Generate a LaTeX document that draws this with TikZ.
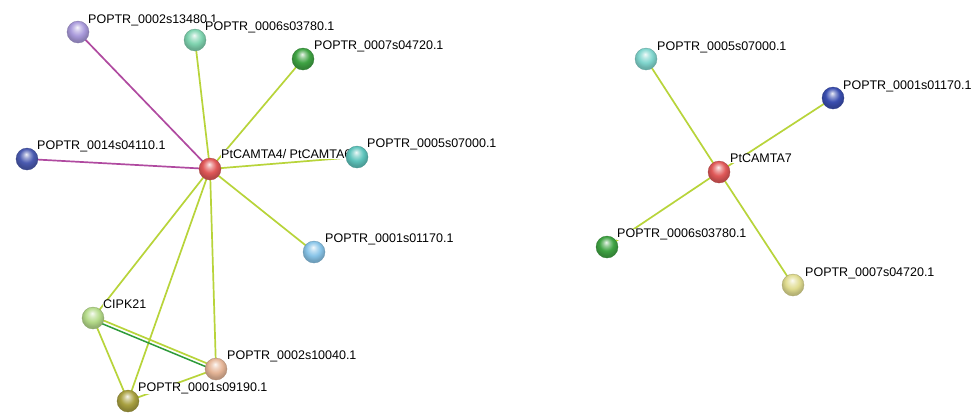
\documentclass[tikz,border=0pt]{standalone}
\usepackage{fontspec}
\setmainfont{Liberation Sans}
\pgfdeclarelayer{bg}
\pgfdeclarelayer{edges}
\pgfdeclarelayer{labels}
\pgfsetlayers{bg,edges,labels,main}
\definecolor{edgeYG}{HTML}{B8D43A}
\definecolor{edgeMag}{HTML}{B04AA0}
\definecolor{edgeGr}{HTML}{2E9B3A}
\definecolor{cRed}{HTML}{E05858}
\definecolor{cLav}{HTML}{A99ADB}
\definecolor{cMint}{HTML}{7FD4B0}
\definecolor{cGreen}{HTML}{3FA343}
\definecolor{cNavy}{HTML}{4A5AB0}
\definecolor{cTeal}{HTML}{5EC4BC}
\definecolor{cLBlue}{HTML}{88C4E8}
\definecolor{cLGreen}{HTML}{B5DB8A}
\definecolor{cPeach}{HTML}{E5B597}
\definecolor{cOlive}{HTML}{A8A040}
\definecolor{cLTeal}{HTML}{80D6CE}
\definecolor{cBlue}{HTML}{3A4EB0}
\definecolor{cYellow}{HTML}{E0DC90}
\makeatletter
\pgfdeclareradialshading[tikz@ball]{sphereshade}{\pgfqpoint{-2bp}{11bp}}{%
  color(0bp)=(tikz@ball!10!white); color(7bp)=(tikz@ball!55!white);
  color(16bp)=(tikz@ball); color(25bp)=(tikz@ball!82!black);
  color(50bp)=(tikz@ball!70!black)}
\tikzset{sph/.code={\colorlet{tikz@ball}{#1}\pgfkeysalso{/tikz/circle,/tikz/minimum size=22pt,/tikz/inner sep=0pt,/tikz/shade,/tikz/shading=sphereshade,/tikz/draw=#1!75!black,/tikz/line width=0.3pt}}}
\makeatother
\tikzset{
  lbl/.style={anchor=base west, fill=white, inner sep=0pt, font=\fontsize{12.5}{14}\selectfont},
  yg/.style={draw=edgeYG, line width=1.7pt},
  mg/.style={draw=edgeMag, line width=1.7pt},
  gr/.style={draw=edgeGr, line width=1.5pt}
}
\begin{document}
\begin{tikzpicture}[x=1pt,y=-1pt]
\begin{pgfonlayer}{bg}
\fill[white] (0,0) rectangle (977,413);
\end{pgfonlayer}
\useasboundingbox (0,0) rectangle (977,413);
% left graph spheres
\node[sph=cRed]    (c1)     at (210,169) {};
\node[sph=cLav]    (a13480) at (78,32)   {};
\node[sph=cMint]   (a03780) at (195,40)  {};
\node[sph=cGreen]  (a04720) at (303,59)  {};
\node[sph=cNavy]   (a04110) at (27,159)  {};
\node[sph=cTeal]   (a07000) at (357,157) {};
\node[sph=cLBlue]  (a01170) at (314,252) {};
\node[sph=cLGreen] (cipk)   at (93,318)  {};
\node[sph=cPeach]  (a10040) at (216,369) {};
\node[sph=cOlive]  (a09190) at (128,401) {};
% right graph spheres
\node[sph=cRed]    (c2)     at (719,172) {};
\node[sph=cLTeal]  (b07000) at (646,59)  {};
\node[sph=cBlue]   (b01170) at (833,98)  {};
\node[sph=cGreen]  (b03780) at (607,247) {};
\node[sph=cYellow] (b04720) at (793,285) {};
% labels
\begin{pgfonlayer}{labels}
\node[lbl] (l13480) at (88,23.5)  {POPTR\_0002s13480.1};
\node[lbl] (l03780) at (205,30.5) {POPTR\_0006s03780.1};
\node[lbl] (l04720) at (314,49.5) {POPTR\_0007s04720.1};
\node[lbl] (l04110) at (37,149.5) {POPTR\_0014s04110.1};
\node[lbl] (lc1)    at (221,158.5) {PtCAMTA4/ PtCAMTA6};
\node[lbl] (l07000) at (367,147.5) {POPTR\_0005s07000.1};
\node[lbl] (l01170) at (325,242.5) {POPTR\_0001s01170.1};
\node[lbl] (lcipk)  at (103,308.5) {CIPK21};
\node[lbl] (l09190) at (138,391.5) {POPTR\_0001s09190.1};
\node[lbl] (l10040) at (227,359.5) {POPTR\_0002s10040.1};
\node[lbl] (lc2)    at (730,162.5) {PtCAMTA7};
\node[lbl] (m07000) at (657,50.5)  {POPTR\_0005s07000.1};
\node[lbl] (m01170) at (843,89.5)  {POPTR\_0001s01170.1};
\node[lbl] (m03780) at (617,237.5) {POPTR\_0006s03780.1};
\node[lbl] (m04720) at (805,276.5) {POPTR\_0007s04720.1};
\end{pgfonlayer}
% edges
\begin{pgfonlayer}{edges}
\draw[mg] (c1.center) -- (a13480.center);
\draw[mg] (c1.center) -- (a04110.center);
\draw[yg] (c1.center) -- (a03780.center);
\draw[yg] (c1.center) -- (a04720.center);
\draw[yg] (c1.center) -- (a07000.center);
\draw[yg] (c1.center) -- (a01170.center);
\draw[yg] (c1.center) -- (cipk.center);
\draw[yg] (c1.center) -- (a09190.center);
\draw[yg] (c1.center) -- (a10040.center);
\draw[yg] (cipk.center) -- (a09190.center);
\draw[yg] (a09190.center) -- (a10040.center);
\draw[yg, transform canvas={shift={(0.7pt,1.6pt)}}] (cipk.center) -- (a10040.center);
\draw[gr, transform canvas={shift={(-0.7pt,-1.6pt)}}] (cipk.center) -- (a10040.center);
\draw[yg] (c2.center) -- (b07000.center);
\draw[yg] (c2.center) -- (b01170.center);
\draw[yg] (c2.center) -- (b03780.center);
\draw[yg] (c2.center) -- (b04720.center);
\end{pgfonlayer}
\end{tikzpicture}
\end{document}
